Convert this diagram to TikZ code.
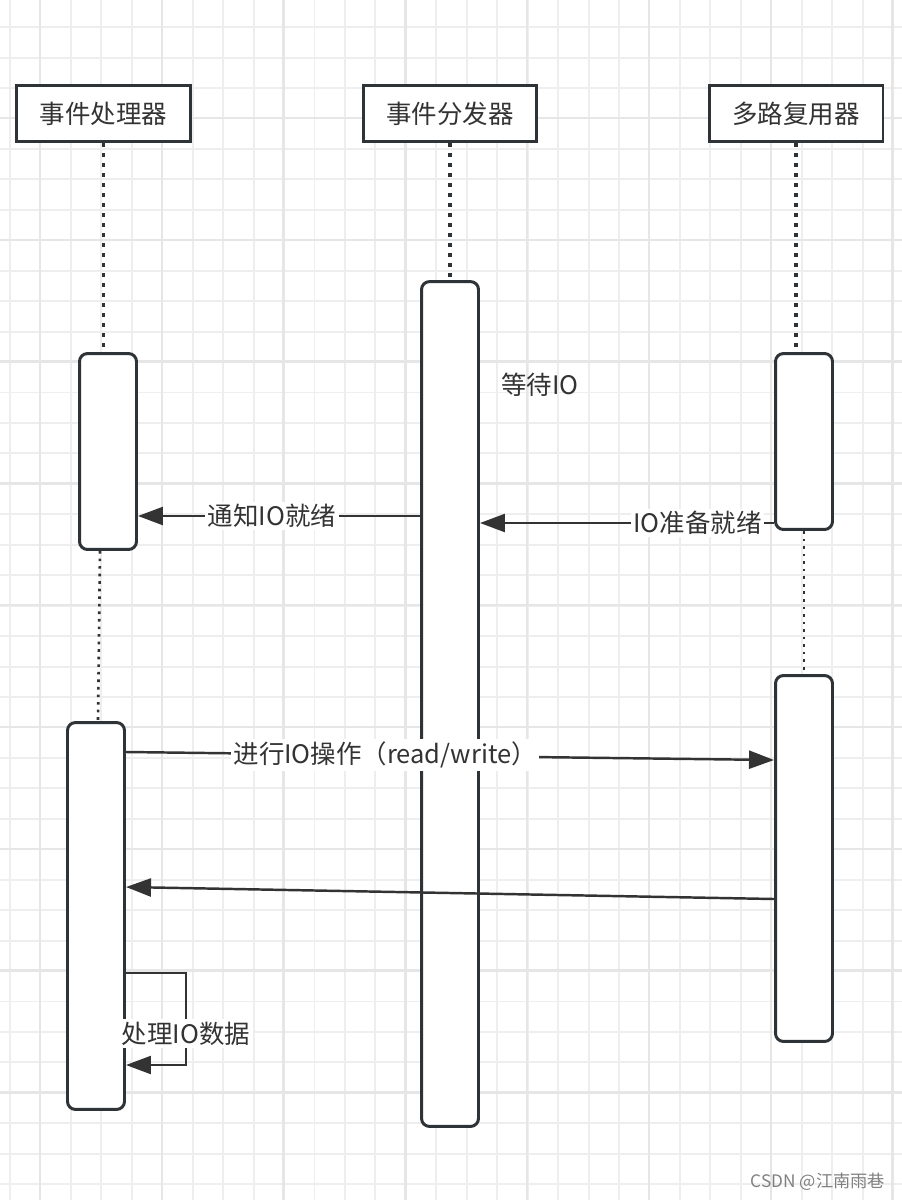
\documentclass[tikz,border=0pt]{standalone}
\usepackage{fontspec}
\setmainfont{Noto Sans CJK SC}
\usepackage{xcolor}
\usetikzlibrary{arrows.meta}

\definecolor{edge}{HTML}{2E3338}
\definecolor{ink}{HTML}{333333}
\definecolor{gridline}{HTML}{EEEEEE}
\definecolor{gridmajor}{HTML}{E6E6E6}

\begin{document}
\begin{tikzpicture}[
    x=0.02cm, y=-0.02cm,
    every node/.style={text=ink, font=\fontsize{14.5}{17}\selectfont},
    head/.style={
        draw=edge, line width=1.7pt, fill=white, rectangle,
        minimum width=3.48cm, minimum height=1.12cm, inner sep=0pt
    },
    act/.style={
        draw=edge, line width=1.7pt, fill=white, rectangle,
        rounded corners=0.16cm, minimum width=1.14cm, inner sep=0pt
    },
    life/.style={draw=edge, line width=2pt, dash pattern=on 2pt off 3.7pt},
    gap/.style={draw=edge, line width=1.5pt, dash pattern=on 1.5pt off 2.8pt},
    msg/.style={draw=ink, line width=1.4pt, -{Triangle[length=0.5cm,width=0.36cm]}},
    lbl/.style={fill=white, inner sep=1.5pt}
]
\useasboundingbox (0,0) rectangle (902,1200);

% Grid
\foreach \i in {0,...,29} {
    \draw[gridline, line width=1.1pt] (10+\i*30.45,0) -- (10+\i*30.45,1200);
}
\foreach \i in {0,...,38} {
    \draw[gridline, line width=1.1pt] (0,27.1+\i*30.45) -- (902,27.1+\i*30.45);
}
\foreach \i in {0,...,7} {
    \draw[gridmajor, line width=1.3pt] (40+\i*121.8,0) -- (40+\i*121.8,1200);
}
\foreach \i in {0,...,9} {
    \draw[gridmajor, line width=1.3pt] (0,118+\i*121.8) -- (902,118+\i*121.8);
}

% Nodes
\node[head] (hHandler) at (103.5,113.5) {事件处理器};
\node[head] (hDispatch) at (450,113.5) {事件分发器};
\node[head] (hMux) at (796,113.5) {多路复用器};

\node[act, minimum height=3.92cm] (actA1) at (108,451.5) {};
\node[act, minimum height=7.74cm] (actA2) at (96,916) {};
\node[act, minimum height=16.9cm] (actD) at (450,704) {};
\node[act, minimum height=3.52cm] (actM1) at (804,441.5) {};
\node[act, minimum height=7.32cm] (actM2) at (804,858.5) {};

\node (wait) at (540,385) {等待IO};

% Lifelines
\draw[life] (hHandler.south) -- (hHandler.south |- actA1.north);
\draw[life] (hDispatch.south) -- (actD.north);
\draw[life] (hMux.south) -- (hMux.south |- actM1.north);
\draw[gap] ([xshift=-0.16cm]actA1.south) -- ([xshift=0.04cm]actA2.north);
\draw[gap] (actM1.south) -- (actM2.north);

% Connections
\draw[msg] (actD.west |- 0,516) -- node[lbl, pos=0.525] (lNotify) {通知IO就绪} (actA1.east |- 0,516);
\draw[msg] (actM1.west |- 0,523) -- node[lbl, pos=0.26] (lReady) {IO准备就绪} (actD.east |- 0,523);
\draw[msg] (actA2.east |- 0,752) -- node[lbl, pos=0.40] (lRW) {进行IO操作（read/write）} (actM2.west |- 0,760);
\draw[msg] (actM2.west |- 0,899) -- (actA2.east |- 0,887);
\draw[msg] (actA2.east |- 0,973) -- (186,973) -- node[lbl, pos=0.66] (lProc) {处理IO数据} (186,1065) -- (actA2.east |- 0,1065);

\node[text=gray, font=\fontsize{9.8}{11}\selectfont] (mark) at (818,1182) {CSDN @江南雨巷};

\end{tikzpicture}
\end{document}
